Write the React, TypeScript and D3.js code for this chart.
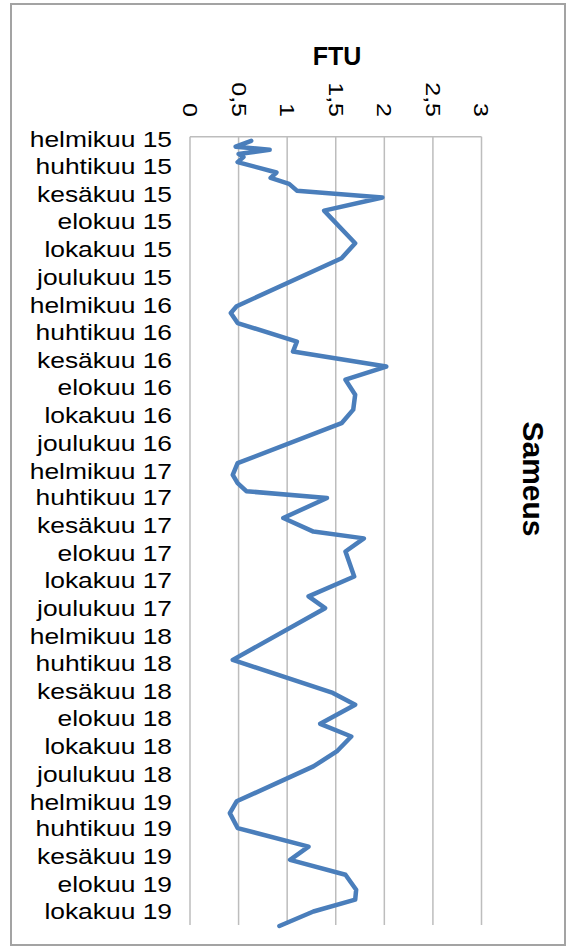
import React from "react";
import * as d3 from "d3";

const monthNames = ["tammikuu","helmikuu","maaliskuu","huhtikuu","toukokuu","kesäkuu","heinäkuu","elokuu","syyskuu","lokakuu","marraskuu","joulukuu"];

const dates: string[] = [
  "2015-02-04","2015-02-17","2015-02-24","2015-03-05","2015-03-12","2015-03-23","2015-04-15","2015-04-27","2015-05-10","2015-05-25",
  "2015-06-09","2015-07-08","2015-09-18","2015-10-21","2016-02-04","2016-02-19","2016-03-12","2016-04-22","2016-05-14","2016-06-16",
  "2016-07-15","2016-08-17","2016-09-19","2016-10-19","2017-01-15","2017-02-10","2017-02-28","2017-03-18","2017-04-02","2017-05-16",
  "2017-06-15","2017-06-30","2017-07-29","2017-09-22","2017-11-05","2017-12-01","2018-03-25","2018-06-06","2018-07-02","2018-08-13",
  "2018-09-10","2018-10-13","2018-11-15","2019-01-31","2019-02-26","2019-03-31","2019-05-11","2019-06-09","2019-07-12","2019-08-14",
  "2019-09-05","2019-10-01","2019-11-02"
];

const ftu: number[] = [
  0.63,0.47,0.82,0.50,0.55,0.49,0.89,0.83,1.02,1.10,
  1.98,1.38,1.70,1.56,0.48,0.42,0.49,1.10,1.06,2.02,
  1.60,1.70,1.68,1.56,0.49,0.44,0.49,0.58,1.41,0.96,
  1.27,1.79,1.60,1.69,1.22,1.39,0.44,1.47,1.70,1.34,
  1.66,1.51,1.27,0.48,0.41,0.49,1.22,1.03,1.60,1.71,
  1.70,1.27,0.92
];

const valueTicks: number[] = [0, 0.5, 1, 1.5, 2, 2.5, 3];
const tickLabels: string[] = ["0", "0,5", "1", "1,5", "2", "2,5", "3"];

const parse = d3.timeParse("%Y-%m-%d");

export default function App() {
  const W = 568, H = 948;
  const left = 190, right = 481.5, top = 136.7, bottom = 926;
  const x = d3.scaleLinear().domain([0, 3]).range([left, right]);
  const y = d3.scaleTime()
    .domain([new Date(2015, 0, 26), new Date(2019, 10, 2)])
    .range([top, bottom]);

  const pts = dates.map((d, i) => ({ date: parse(d) as Date, v: ftu[i] }));
  const line = d3.line<{ date: Date; v: number }>()
    .x(d => x(d.v))
    .y(d => y(d.date));

  const labelDates = d3.timeMonth.range(new Date(2015, 1, 1), new Date(2019, 10, 1), 2);

  const font = "'Liberation Sans', Arial, sans-serif";
  const grid = "#bdbdbd";

  return (
    <svg width={W} height={H} style={{ position: "absolute", left: 0, top: 0, background: "#fff" }}>
      <rect x={11} y={4} width={554} height={941} fill="#fff" stroke="#a3a3a3" strokeWidth={2} />
      {valueTicks.map((t) => (
        <line key={"g" + t} x1={x(t)} x2={x(t)} y1={top} y2={bottom - 1} stroke={grid} strokeWidth={1.5} />
      ))}
      <line x1={left} x2={right} y1={top} y2={top} stroke={grid} strokeWidth={1.5} />
      {valueTicks.map((t, i) => (
        <text key={"t" + t}
          transform={`translate(${x(t)},117) rotate(90) scale(1.25,1)`}
          textAnchor="end" dy="0.35em"
          fontFamily={font} fontSize={20} fill="#000">{tickLabels[i]}</text>
      ))}
      <text x={337} y={65} textAnchor="middle" fontFamily={font} fontWeight="bold" fontSize={25} fill="#000">FTU</text>
      {labelDates.map((d) => (
        <text key={d.toISOString()}
          transform={`translate(172,${y(d)}) scale(1.2,1)`}
          textAnchor="end" dy="0.36em"
          fontFamily={font} fontSize={22} fill="#000">
          {monthNames[d.getMonth()] + " " + String(d.getFullYear()).slice(2)}
        </text>
      ))}
      <path d={line(pts) || ""} fill="none" stroke="#4a7ebb" strokeWidth={4.5} strokeLinejoin="round" strokeLinecap="round" />
      <text transform="translate(523,479) rotate(90)" textAnchor="middle"
        fontFamily={font} fontWeight="bold" fontSize={30} fill="#000">Sameus</text>
    </svg>
  );
}
